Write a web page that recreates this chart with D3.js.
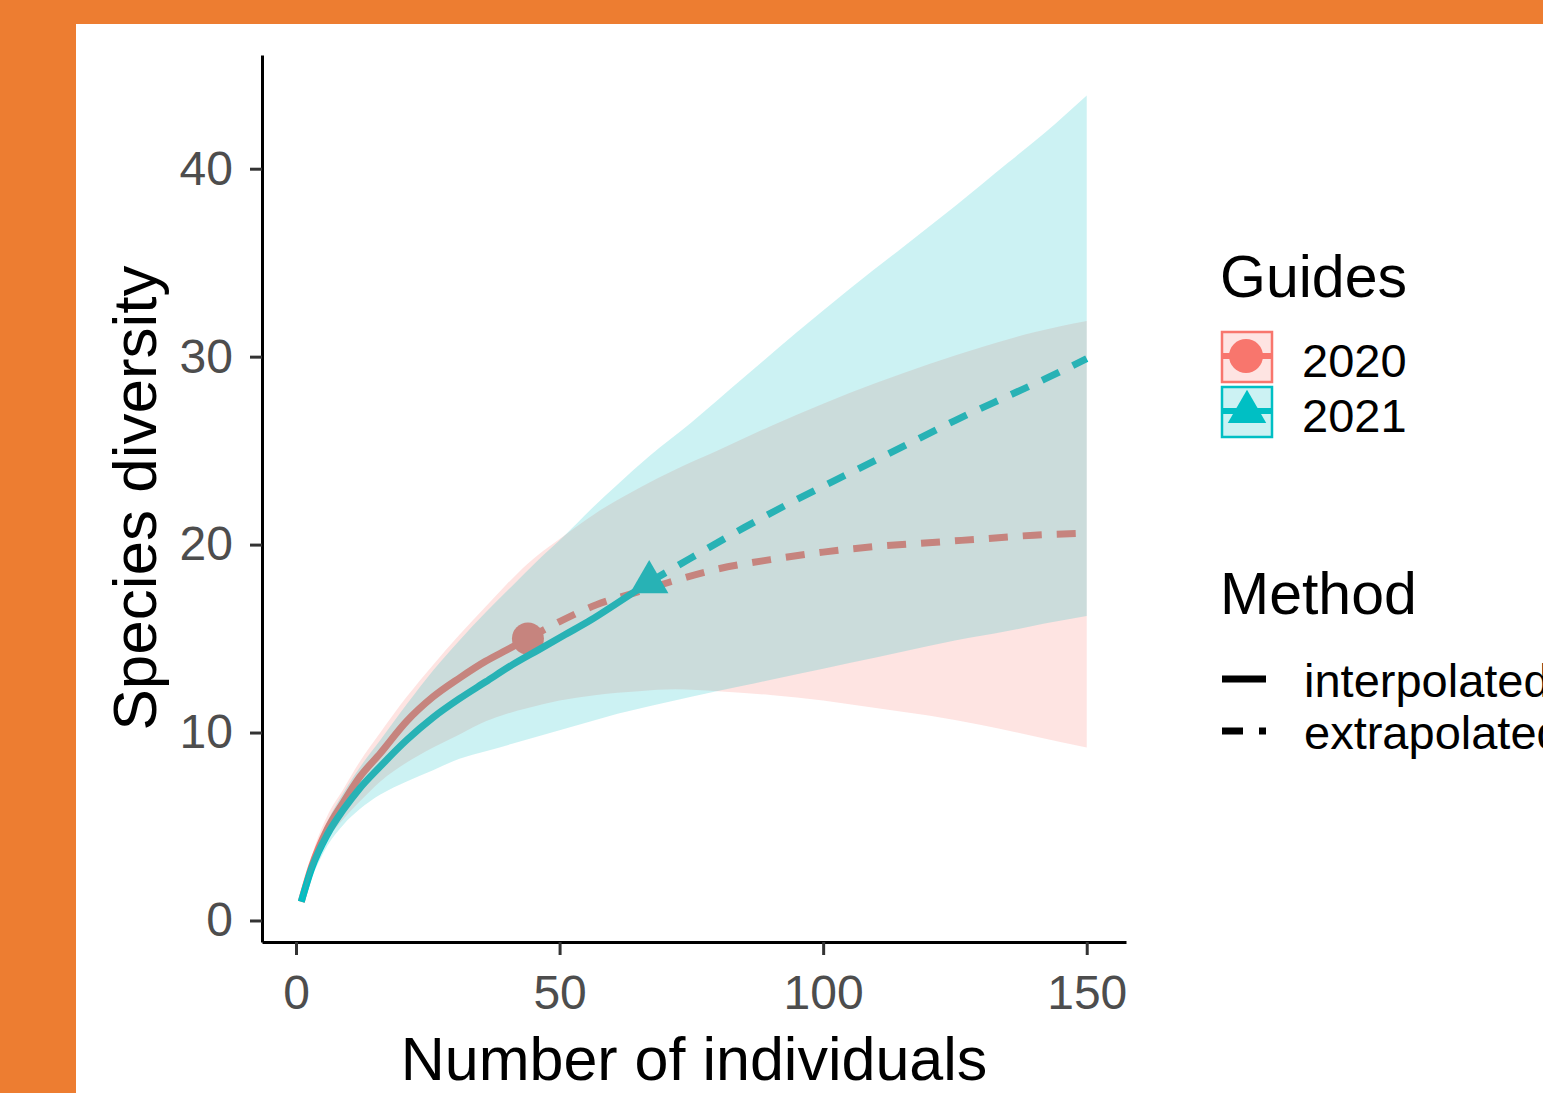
<!DOCTYPE html>
<html><head><meta charset="utf-8">
<script src="https://cdn.jsdelivr.net/npm/d3@7"></script>
<style>html,body{margin:0;padding:0;background:#ED7D31;overflow:hidden}</style>
</head><body>
<svg id="c" width="1543" height="1093"></svg>
<script>
// ---- data ----
const xTicks = [0, 50, 100, 150];
const yTicks = [0, 10, 20, 30, 40];
const guideLabels = ["2020", "2021"];
const methodLabels = ["interpolated", "extrapolated"];
const xTitle = "Number of individuals";
const yTitle = "Species diversity";

// 2020 (reference sample n = 44)
const n2020  = [1, 3, 6, 9, 12, 16, 21, 26, 31, 36, 40, 44, 50, 57, 65, 72, 80, 90, 100, 110, 120, 130, 140, 150];
const s2020  = [1, 2.9, 4.9, 6.3, 7.6, 8.9, 10.6, 11.9, 12.9, 13.8, 14.4, 15.0, 15.9, 16.8, 17.5, 18.1, 18.7, 19.2, 19.6, 19.9, 20.1, 20.3, 20.5, 20.6];
const lo2020 = [1, 2.5, 4.3, 5.4, 6.3, 7.4, 8.4, 9.2, 9.9, 10.6, 11.0, 11.3, 11.7, 12.0, 12.2, 12.3, 12.2, 12.0, 11.7, 11.3, 10.9, 10.4, 9.8, 9.2];
const hi2020 = [1, 3.4, 5.6, 7.0, 8.4, 10.0, 11.9, 13.6, 15.2, 16.7, 17.9, 19.0, 20.3, 21.7, 23.0, 24.0, 25.0, 26.3, 27.5, 28.6, 29.6, 30.5, 31.3, 31.9];
const obs2020 = 44;

// 2021 (reference sample n = 67)
const n2021  = [1, 3, 6, 9, 12, 16, 21, 26, 31, 36, 41, 46, 51, 56, 61, 67, 75, 85, 95, 105, 115, 125, 135, 142, 150];
const s2021  = [1, 2.8, 4.6, 5.9, 7.0, 8.2, 9.6, 10.8, 11.8, 12.7, 13.6, 14.4, 15.2, 16.0, 16.9, 18.0, 19.3, 20.9, 22.4, 23.8, 25.2, 26.6, 27.9, 28.8, 29.9];
const lo2021 = [1, 2.3, 4.0, 5.1, 5.9, 6.7, 7.4, 8.0, 8.6, 9.0, 9.4, 9.8, 10.2, 10.6, 11.0, 11.4, 11.9, 12.5, 13.1, 13.7, 14.3, 14.9, 15.4, 15.8, 16.2];
const hi2021 = [1, 3.2, 5.3, 6.8, 8.1, 9.6, 11.5, 13.3, 14.9, 16.4, 17.8, 19.2, 20.5, 21.9, 23.2, 24.7, 26.5, 28.9, 31.3, 33.6, 35.8, 38.0, 40.3, 41.9, 43.9];
const obs2021 = 67;

// ---- setup ----
const FONT = "'Liberation Sans', Arial, sans-serif";
const pink = "#F8766D", cyan = "#00BFC4";
const svg = d3.select("#c");
svg.append("rect").attr("x", 0).attr("y", 0).attr("width", 1543).attr("height", 1093).attr("fill", "#ED7D31");
svg.append("rect").attr("x", 76).attr("y", 24).attr("width", 1467).attr("height", 1069).attr("fill", "#ffffff");

const x = d3.scaleLinear().domain([-6.45, 157.45]).range([262, 1126]);
const y = d3.scaleLinear().domain([-1.145, 46.05]).range([942, 55]);

const series = [
  {name: guideLabels[0], n: n2020, s: s2020, lo: lo2020, hi: hi2020, obs: obs2020, color: pink, shape: "circle"},
  {name: guideLabels[1], n: n2021, s: s2021, lo: lo2021, hi: hi2021, obs: obs2021, color: cyan, shape: "triangle"}
];

const line = d3.line().x(d => x(d[0])).y(d => y(d[1])).curve(d3.curveMonotoneX);
const area = d3.area().x(d => x(d[0])).y0(d => y(d[1])).y1(d => y(d[2])).curve(d3.curveMonotoneX);

const plot = svg.append("g");
const triSym = d3.symbol().type(d3.symbolTriangle).size(640);

// lines & points first (ribbons are drawn over them with alpha)
series.forEach(sr => {
  const pts = sr.n.map((v, i) => [v, sr.s[i]]);
  const interp = pts.filter(p => p[0] <= sr.obs);
  const extrap = pts.filter(p => p[0] >= sr.obs);
  plot.append("path").attr("d", line(interp)).attr("fill", "none")
    .attr("stroke", sr.color).attr("stroke-width", 7);
  plot.append("path").attr("d", line(extrap)).attr("fill", "none")
    .attr("stroke", sr.color).attr("stroke-width", 7).attr("stroke-dasharray", "19,15");
  const op = pts.find(p => p[0] === sr.obs);
  if (sr.shape === "circle") {
    plot.append("circle").attr("cx", x(op[0])).attr("cy", y(op[1])).attr("r", 16).attr("fill", sr.color);
  } else {
    plot.append("path").attr("d", triSym()).attr("transform", `translate(${x(op[0])},${y(op[1])})`).attr("fill", sr.color);
  }
});
series.forEach(sr => {
  const band = sr.n.map((v, i) => [v, sr.lo[i], sr.hi[i]]);
  plot.append("path").attr("d", area(band)).attr("fill", sr.color).attr("fill-opacity", 0.2);
});

// ---- axes ----
const gx = svg.append("g").attr("transform", "translate(0,942)")
  .call(d3.axisBottom(x).tickValues(xTicks).tickSize(13).tickSizeOuter(0).tickPadding(20));
const gy = svg.append("g").attr("transform", "translate(262,0)")
  .call(d3.axisLeft(y).tickValues(yTicks).tickSize(12).tickSizeOuter(0).tickPadding(17));
[gx, gy].forEach(g => {
  g.select(".domain").attr("stroke", "#000").attr("stroke-width", 3);
  g.selectAll(".tick line").attr("stroke", "#333").attr("stroke-width", 3);
  g.selectAll(".tick text").attr("fill", "#4D4D4D").style("font-family", FONT).style("font-size", "48px");
});

svg.append("text").attr("x", 694).attr("y", 1080).attr("text-anchor", "middle")
  .style("font-family", FONT).style("font-size", "61px").attr("fill", "#000").text(xTitle);
svg.append("text").attr("transform", "translate(156,498) rotate(-90)").attr("text-anchor", "middle")
  .style("font-family", FONT).style("font-size", "62px").attr("fill", "#000").text(yTitle);

// ---- legends ----
const lg = svg.append("g");
lg.append("text").attr("x", 1220).attr("y", 297).style("font-family", FONT).style("font-size", "59px").text("Guides");
series.forEach((sr, i) => {
  const ky = 332 + i * 55;
  lg.append("rect").attr("x", 1222).attr("y", ky).attr("width", 50).attr("height", 50)
    .attr("fill", sr.color).attr("fill-opacity", 0.2).attr("stroke", sr.color).attr("stroke-width", 2.5);
  lg.append("line").attr("x1", 1223).attr("x2", 1271).attr("y1", ky + 24).attr("y2", ky + 24)
    .attr("stroke", sr.color).attr("stroke-width", 6);
  if (sr.shape === "circle") {
    lg.append("circle").attr("cx", 1246).attr("cy", ky + 24).attr("r", 17).attr("fill", sr.color);
  } else {
    lg.append("path").attr("d", triSym()).attr("transform", `translate(1247,${ky + 25})`).attr("fill", sr.color);
  }
  lg.append("text").attr("x", 1302).attr("y", 377 + i * 55).style("font-family", FONT).style("font-size", "47px").text(sr.name);
});

lg.append("text").attr("x", 1220).attr("y", 614).style("font-family", FONT).style("font-size", "59px").text("Method");
methodLabels.forEach((m, i) => {
  const ly = 679 + i * 52;
  lg.append("line").attr("x1", 1222).attr("x2", 1266).attr("y1", ly).attr("y2", ly)
    .attr("stroke", "#000").attr("stroke-width", 7)
    .attr("stroke-dasharray", i === 1 ? "21,16" : null);
  lg.append("text").attr("x", 1304).attr("y", 697 + i * 52).style("font-family", FONT).style("font-size", "47px").text(m);
});
</script>
</body></html>
